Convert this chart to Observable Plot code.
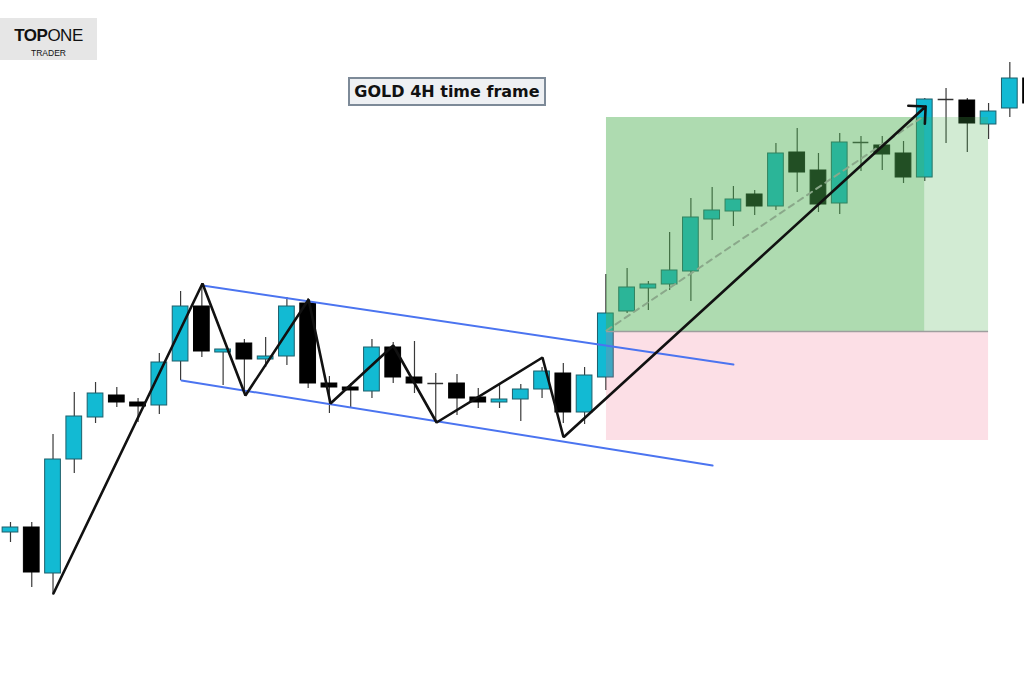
<!DOCTYPE html>
<html>
<head>
<meta charset="utf-8">
<script src="https://cdn.jsdelivr.net/npm/d3@7"></script>
<script src="https://cdn.jsdelivr.net/npm/@observablehq/plot@0.6"></script>
<style>
  html, body { margin: 0; padding: 0; background: #fff; }
  #wrap { position: relative; width: 1024px; height: 682px; overflow: hidden; }
  #logo { position: absolute; left: 0; top: 18px; width: 97px; height: 42px; background: #e6e6e6;
          font-family: "Liberation Sans", Arial, sans-serif; color: #111; text-align: center; }
  #logo .big { position: absolute; left: 0; right: 0; top: 9px; font-size: 17px; letter-spacing: -0.5px; line-height: 17px; }
  #logo .small { position: absolute; left: 0; right: 0; top: 31px; font-size: 8.5px; line-height: 9px; }
  #title { position: absolute; left: 348px; top: 77px; width: 194px; height: 25px; background: #eef0f3;
           border: 2px solid #7d8a98; font-family: "DejaVu Sans", sans-serif; font-weight: bold;
           font-size: 16px; line-height: 25px; text-align: center; color: #111; }
</style>
</head>
<body>
<div id="wrap">
  <div id="chart"></div>
  <div id="logo"><div class="big"><b>TOP</b>ONE</div><div class="small">TRADER</div></div>
  <div id="title">GOLD 4H time frame</div>
</div>
<script>
// Candles (GOLD 4H), index 0..48
const opens  = [1906.8,1907.3,1902.7,1914.1,1918.3,1920.5,1919.8,1919.5,1923.9,1929.4,
                1924.8,1925.7,1924.1,1924.4,1929.7,1921.7,1921.3,1920.9,1925.3,1922.3,
                1921.7,1921.7,1920.3,1919.8,1920.1,1921.1,1922.7,1918.8,1922.3,1928.9,
                1931.2,1931.6,1932.9,1938.1,1938.9,1940.6,1939.4,1944.8,1943.0,1939.7,
                1945.8,1945.5,1944.7,1942.3,1950.1,1950.0,1947.6,1949.2,1952.2];
const highs  = [1907.8,1907.8,1916.6,1920.8,1921.8,1921.3,1920.2,1924.7,1930.9,1931.7,
                1925.1,1926.1,1926.3,1930.3,1930.2,1922.4,1921.7,1926.1,1925.8,1925.9,
                1922.7,1922.6,1921.2,1921.6,1921.6,1923.3,1923.7,1923.3,1932.6,1933.2,
                1931.9,1936.8,1940.2,1941.3,1941.4,1941.0,1945.7,1947.2,1944.7,1946.7,
                1946.4,1946.4,1945.9,1950.2,1951.2,1950.2,1949.7,1953.8,1952.6];
const lows   = [1905.8,1901.3,1900.7,1912.7,1917.7,1919.3,1917.8,1918.6,1922.0,1924.3,
                1921.5,1920.7,1923.3,1923.5,1921.2,1918.7,1919.3,1920.2,1921.7,1920.7,
                1917.8,1918.5,1919.2,1919.2,1917.9,1920.2,1917.7,1917.6,1921.0,1928.7,
                1929.0,1931.0,1929.9,1936.0,1937.4,1938.5,1939.0,1940.8,1938.8,1938.6,
                1942.9,1943.0,1941.7,1941.9,1945.7,1944.8,1946.1,1948.3,1949.2];
const closes = [1907.3,1902.8,1914.1,1918.4,1920.7,1919.8,1919.4,1923.8,1929.4,1924.9,
                1925.1,1924.1,1924.4,1929.4,1921.7,1921.3,1921.0,1925.3,1922.3,1921.7,
                1921.7,1920.2,1919.8,1920.1,1921.1,1922.9,1918.8,1922.5,1928.7,1931.3,
                1931.6,1933.0,1938.3,1939.0,1940.1,1939.4,1944.7,1942.8,1939.6,1945.8,
                1945.8,1944.6,1942.3,1950.1,1950.1,1947.7,1948.9,1952.2,1949.7];

// Channel lines (index, price)
const upperChannel = [{i: 9.03, p: 1931.5}, {i: 34.0, p: 1923.6}];
const lowerChannel = [{i: 8.04, p: 1922.0}, {i: 33.02, p: 1913.5}];

// Zigzag swing points
const swingIdx   = [2.02, 9.03, 11.05, 14.02, 15.05, 18.0, 20.04, 25.02, 26.0];
const swingPrice = [1900.7, 1931.7, 1920.5, 1930.1, 1919.7, 1925.5, 1917.8, 1924.3, 1916.4];

// Breakout arrow
const arrowFrom = {i: 26.05, p: 1916.4};
const arrowTo   = {i: 43.04, p: 1949.4};

// Trade setup zone
const tradeStart = 28.03, tradeEnd = 43.0, tradeExtend = 46.0;
const entryPrice = 1926.9, targetPrice = 1948.3, stopPrice = 1916.0;
const trendDashed = [{i: 28.03, p: 1927.0}, {i: 42.8, p: 1948.2}];

const candles = opens.map((o, k) => ({i: k, o, h: highs[k], l: lows[k], c: closes[k]}));
const bodies = candles.filter(d => d.o !== d.c);
const dojis  = candles.filter(d => d.o === d.c);
const swings = swingIdx.map((i, k) => ({i, p: swingPrice[k]}));
const hw = 0.37;

const cyan = "#12bad3";
const chart = Plot.plot({
  width: 1024, height: 682,
  margin: 0,
  x: {domain: [-0.47, 47.69], axis: null},
  y: {domain: [1891.8, 1960], axis: null},
  marks: [
    Plot.ruleX(candles, {x: "i", y1: "l", y2: "h", stroke: "#3a3a3a", strokeWidth: 1.2}),
    Plot.rect(bodies, {x1: d => d.i - hw, x2: d => d.i + hw, y1: "o", y2: "c",
      fill: d => d.c > d.o ? cyan : "#000",
      stroke: d => d.c > d.o ? "#1d5f6b" : "#000", strokeWidth: 1}),
    Plot.ruleY(dojis, {y: "c", x1: d => d.i - hw, x2: d => d.i + hw, stroke: "#333", strokeWidth: 1.5}),
    // trade zones (semi-transparent overlays)
    Plot.rect([{x1: tradeStart, x2: tradeEnd, y1: entryPrice, y2: targetPrice}],
      {x1: "x1", x2: "x2", y1: "y1", y2: "y2", fill: "#4caf50", fillOpacity: 0.45}),
    Plot.rect([{x1: tradeEnd, x2: tradeExtend, y1: entryPrice, y2: targetPrice}],
      {x1: "x1", x2: "x2", y1: "y1", y2: "y2", fill: "#4caf50", fillOpacity: 0.25}),
    Plot.rect([{x1: tradeStart, x2: tradeExtend, y1: stopPrice, y2: entryPrice}],
      {x1: "x1", x2: "x2", y1: "y1", y2: "y2", fill: "#f06080", fillOpacity: 0.2}),
    Plot.ruleY([entryPrice], {x1: tradeStart, x2: tradeExtend, stroke: "#9e9e9e", strokeWidth: 1.5}),
    Plot.line(trendDashed, {x: "i", y: "p", stroke: "#8aa88a", strokeWidth: 2, strokeDasharray: "6,5"}),
    // channel
    Plot.line(upperChannel, {x: "i", y: "p", stroke: "#4b74f0", strokeWidth: 2}),
    Plot.line(lowerChannel, {x: "i", y: "p", stroke: "#4b74f0", strokeWidth: 2}),
    // zigzag
    Plot.line(swings, {x: "i", y: "p", stroke: "#111", strokeWidth: 2.6, strokeLinejoin: "miter"}),
    Plot.arrow([{a: arrowFrom, b: arrowTo}], {x1: d => d.a.i, y1: d => d.a.p, x2: d => d.b.i, y2: d => d.b.p,
      stroke: "#111", strokeWidth: 2.6, headLength: 10, headAngle: 90})
  ]
});
document.getElementById("chart").appendChild(chart);
</script>
</body>
</html>
